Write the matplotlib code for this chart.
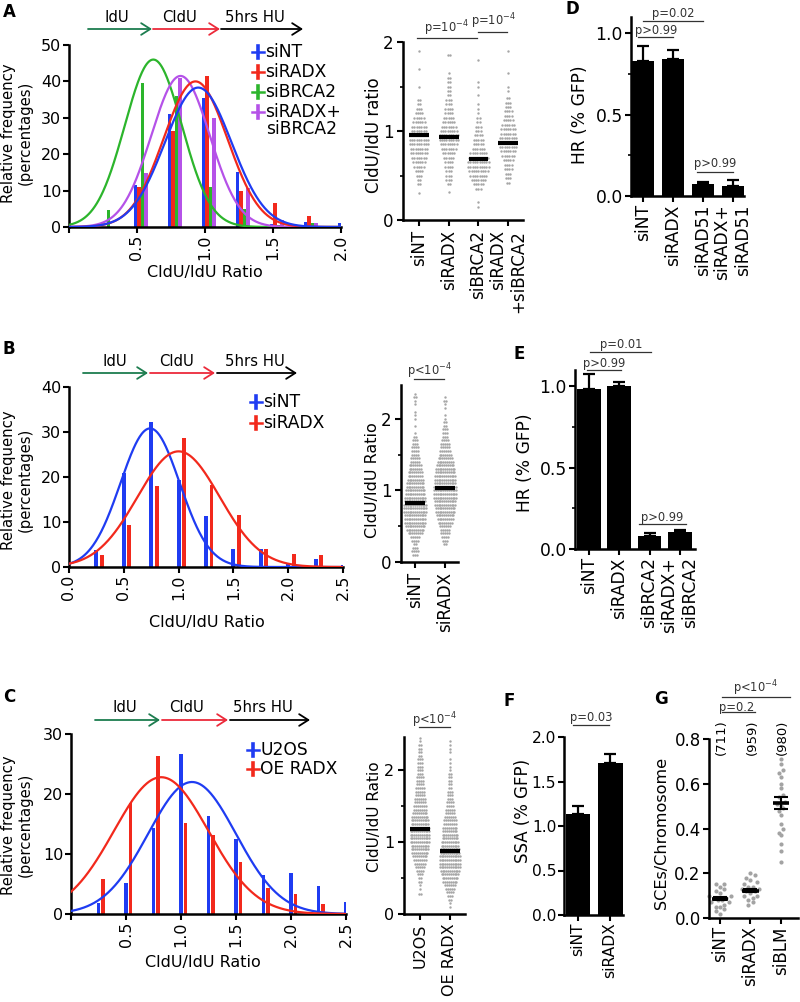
import numpy as np
import matplotlib
matplotlib.use("Agg")
import matplotlib.pyplot as plt
from matplotlib.lines import Line2D
from matplotlib.patches import FancyArrowPatch

plt.rcParams['font.family'] = ['DejaVu Sans']
plt.rcParams['mathtext.default'] = 'regular'

# ---------------- DATA ----------------
# Panel A histogram (relative frequency, %)
A_bins = [0.25, 0.50, 0.75, 1.00, 1.25, 1.50, 1.75, 2.00]
A_siNT = [0.0, 11.5, 31.0, 35.5, 15.0, 0.8, 1.4, 1.2]
A_siRADX = [0.0, 11.0, 26.3, 41.5, 10.0, 6.7, 3.0, 0.0]
A_siBRCA2 = [4.8, 39.5, 36.0, 11.0, 5.0, 0.5, 1.0, 0.0]
A_combo = [0.0, 14.7, 41.0, 30.0, 10.7, 2.0, 1.0, 0.0]
# gaussian fits (amplitude, mean, sd)
A_fit_siNT = (38.3, 0.95, 0.245)
A_fit_siRADX = (40.0, 0.93, 0.235)
A_fit_siBRCA2 = (46.0, 0.62, 0.21)
A_fit_combo = (41.5, 0.82, 0.215)

# Panel B histogram
B_bins = [0.25, 0.50, 0.75, 1.00, 1.25, 1.50, 1.75, 2.00, 2.25, 2.50]
B_siNT = [3.7, 21.0, 32.2, 19.3, 11.3, 4.0, 4.0, 0.9, 1.8, 0.5]
B_siRADX = [2.6, 9.4, 18.0, 28.6, 18.2, 11.5, 3.9, 3.0, 2.6, 0.0]
B_fit_siNT = (30.8, 0.74, 0.27)
B_fit_siRADX = (25.7, 1.00, 0.375)

# Panel C histogram
C_bins = [0.25, 0.50, 0.75, 1.00, 1.25, 1.50, 1.75, 2.00, 2.25, 2.50]
C_U2OS = [1.8, 5.2, 14.3, 26.7, 16.4, 12.5, 6.5, 6.9, 4.7, 2.0]
C_OE = [5.8, 18.5, 26.4, 15.2, 13.1, 8.7, 4.3, 3.3, 1.7, 0.0]
C_fit_U2OS = (22.0, 1.10, 0.40)
C_fit_OE = (22.8, 0.82, 0.43)

# Panel A dot plot: rows (CldU/IdU value) and number of fibres in each row
A_sc_cats = ["siNT", "siRADX", "siBRCA2", "siRADX\n+siBRCA2"]
A_sc_siNT_lv = [0.30, 0.40, 0.45, 0.50, 0.55, 0.60, 0.65, 0.70, 0.75, 0.80, 0.85, 0.90,
                0.95, 1.00, 1.05, 1.10, 1.15, 1.20, 1.25, 1.30, 1.35, 1.50, 1.70, 1.90]
A_sc_siNT_n = [1, 2, 2, 3, 4, 5, 6, 7, 8, 8, 9, 9, 8, 7, 7, 6, 5, 4, 3, 2, 2, 1, 1, 1]
A_sc_siRADX_lv = [0.32, 0.40, 0.45, 0.50, 0.55, 0.60, 0.65, 0.70, 0.75, 0.80, 0.85, 0.90,
                  0.95, 1.00, 1.05, 1.10, 1.15, 1.20, 1.25, 1.30, 1.35, 1.40, 1.45, 1.50,
                  1.55, 1.60, 1.65, 1.85]
A_sc_siRADX_n = [1, 2, 3, 3, 3, 4, 4, 5, 6, 7, 8, 9, 9, 8, 7, 6, 5, 4, 4, 3, 3, 2, 2, 2, 2, 2, 1, 2]
A_sc_siBRCA2_lv = [0.15, 0.20, 0.35, 0.40, 0.45, 0.50, 0.55, 0.60, 0.65, 0.70, 0.75, 0.80,
                   0.85, 0.90, 0.95, 1.00, 1.05, 1.10, 1.15, 1.20, 1.25, 1.30, 1.40, 1.50,
                   1.55, 1.80]
A_sc_siBRCA2_n = [1, 1, 3, 5, 7, 8, 9, 10, 10, 9, 8, 6, 5, 5, 4, 3, 3, 2, 2, 1, 1, 1, 1, 1, 1, 1]
A_sc_combo_lv = [0.42, 0.47, 0.52, 0.57, 0.62, 0.67, 0.72, 0.77, 0.82, 0.87, 0.92, 0.97,
                 1.02, 1.07, 1.12, 1.17, 1.22, 1.27, 1.32, 1.37, 1.45, 1.50, 1.65, 1.90]
A_sc_combo_n = [2, 3, 3, 4, 4, 5, 6, 7, 8, 8, 8, 7, 7, 6, 5, 4, 4, 3, 3, 2, 1, 1, 1, 1]
A_sc_medians = [0.95, 0.93, 0.68, 0.87]

# Panel B dot plot
B_sc_cats = ["siNT", "siRADX"]
B_sc_siNT_lv = [0.10, 0.15, 0.20, 0.25, 0.30, 0.35, 0.40, 0.45, 0.50, 0.55, 0.60, 0.65,
                0.70, 0.75, 0.80, 0.85, 0.90, 0.95, 1.00, 1.05, 1.10, 1.15, 1.20, 1.25,
                1.30, 1.35, 1.40, 1.45, 1.50, 1.55, 1.60, 1.65, 1.70, 1.75, 1.80, 1.90,
                2.00, 2.05, 2.10, 2.20, 2.25, 2.30, 2.35]
B_sc_siNT_n = [3, 4, 3, 2, 4, 5, 8, 10, 11, 12, 12, 12, 13, 13, 13, 12, 12, 11, 11, 10, 10, 9,
               8, 8, 7, 7, 5, 5, 4, 4, 4, 3, 3, 2, 1, 1, 1, 1, 1, 1, 1, 2, 1]
B_sc_siRADX_lv = [0.25, 0.30, 0.35, 0.40, 0.45, 0.50, 0.55, 0.60, 0.65, 0.70, 0.75, 0.80,
                  0.85, 0.90, 0.95, 1.00, 1.05, 1.10, 1.15, 1.20, 1.25, 1.30, 1.35, 1.40,
                  1.45, 1.50, 1.55, 1.60, 1.65, 1.70, 1.75, 1.80, 1.85, 1.90, 1.95, 2.00,
                  2.05, 2.15, 2.20, 2.25, 2.30]
B_sc_siRADX_n = [2, 3, 4, 5, 5, 6, 8, 9, 10, 11, 11, 12, 12, 13, 13, 13, 13, 12, 12, 12, 11, 11,
                 10, 9, 8, 7, 6, 5, 5, 4, 3, 3, 3, 2, 2, 1, 1, 1, 1, 2, 1]
B_sc_medians = [0.82, 1.03]

# Panel C dot plot
C_sc_cats = ["U2OS", "OE RADX"]
C_sc_U2OS_lv = [0.28, 0.35, 0.40, 0.45, 0.50, 0.55, 0.60, 0.65, 0.70, 0.75, 0.80, 0.85,
                0.90, 0.95, 1.00, 1.05, 1.10, 1.15, 1.20, 1.25, 1.30, 1.35, 1.40, 1.45,
                1.50, 1.55, 1.60, 1.65, 1.70, 1.75, 1.80, 1.85, 1.90, 1.95, 2.00, 2.05,
                2.10, 2.15, 2.20, 2.25, 2.30, 2.35, 2.40, 2.45]
C_sc_U2OS_n = [2, 1, 1, 2, 2, 3, 4, 5, 6, 7, 8, 9, 10, 10, 11, 11, 11, 11, 11, 10, 10, 9, 8, 7,
               7, 6, 6, 5, 5, 5, 4, 4, 4, 3, 3, 3, 3, 3, 2, 2, 2, 2, 1, 1]
C_sc_OE_lv = [0.10, 0.15, 0.20, 0.25, 0.30, 0.35, 0.40, 0.45, 0.50, 0.55, 0.60, 0.65,
              0.70, 0.75, 0.80, 0.85, 0.90, 0.95, 1.00, 1.05, 1.10, 1.15, 1.20, 1.25,
              1.30, 1.35, 1.40, 1.45, 1.50, 1.55, 1.60, 1.65, 1.70, 1.75, 1.80, 1.85,
              1.90, 1.95, 2.00, 2.05, 2.10, 2.15, 2.25, 2.30, 2.35, 2.40]
C_sc_OE_n = [1, 1, 2, 3, 4, 5, 6, 8, 9, 10, 11, 12, 12, 12, 12, 11, 11, 10, 10, 9, 9, 8, 8, 7,
             7, 6, 5, 5, 4, 4, 3, 3, 3, 2, 2, 2, 2, 2, 1, 1, 1, 1, 1, 1, 1, 1]
C_sc_medians = [1.18, 0.87]

# Panel D (HR, % GFP)
D_cats = ["siNT", "siRADX", "siRAD51", "siRADX+\nsiRAD51"]
D_vals = [0.83, 0.84, 0.075, 0.063]
D_err = [0.09, 0.06, 0.008, 0.035]

# Panel E (HR, % GFP)
E_cats = ["siNT", "siRADX", "siBRCA2", "siRADX+\nsiBRCA2"]
E_vals = [0.985, 1.00, 0.078, 0.104]
E_err = [0.09, 0.027, 0.02, 0.015]

# Panel F (SSA, % GFP)
F_cats = ["siNT", "siRADX"]
F_vals = [1.13, 1.71]
F_err = [0.10, 0.10]

# Panel G (SCEs / chromosome)
G_cats = ["siNT", "siRADX", "siBLM"]
G_counts = ["(711)", "(959)", "(980)"]
G_siNT = [0.02, 0.03, 0.04, 0.05, 0.05, 0.06, 0.07, 0.07, 0.08, 0.08, 0.09, 0.09, 0.10,
          0.10, 0.11, 0.12, 0.13, 0.14, 0.15, 0.15]
G_siRADX = [0.06, 0.07, 0.08, 0.09, 0.10, 0.10, 0.11, 0.12, 0.12, 0.13, 0.13, 0.14, 0.14,
            0.15, 0.16, 0.17, 0.18, 0.19, 0.20]
G_siBLM = [0.25, 0.30, 0.33, 0.37, 0.38, 0.40, 0.42, 0.46, 0.48, 0.49, 0.50, 0.51, 0.52,
           0.54, 0.55, 0.58, 0.60, 0.63, 0.65, 0.66, 0.69, 0.71]
G_means = [0.087, 0.122, 0.515]
G_sems = [0.008, 0.007, 0.028]

# ---------------- STYLE ----------------
BLUE = '#1f3cf2'
RED = '#f2291c'
GREEN = '#2cb52c'
PURPLE = '#b552e8'
GRAY = '#a6a6a6'
ARROW_GREEN = '#1d7d4f'
ARROW_RED = '#ec2a3a'

W, H = 800, 1002
fig = plt.figure(figsize=(8, 10.02), dpi=100)


def fx(x):
    return x / W


def fy(y):
    return 1 - y / H


def add_ax(l, t, r, b):
    return fig.add_axes([l / W, 1 - b / H, (r - l) / W, (b - t) / H])


def style(ax, tick_fs=11.5, pad=2.0):
    for s in ['top', 'right']:
        ax.spines[s].set_visible(False)
    for s in ['left', 'bottom']:
        ax.spines[s].set_linewidth(1.8)
    ax.tick_params(direction='out', length=4, width=1.5, labelsize=tick_fs, pad=pad)
    ax.tick_params(which='minor', direction='out', length=2.5, width=1.2)
    ax.patch.set_alpha(0)


def gauss(x, p):
    a, m, s = p
    return a * np.exp(-(x - m) ** 2 / (2 * s ** 2))


def hist_panel(box, xlim, ylim, yticks, xticks, xlabels, bins, series, width, fits):
    ax = add_ax(*box)
    b = np.asarray(bins)
    for vals, color, off in series:
        ax.bar(b + off, vals, width=width, color=color, lw=0, zorder=2)
    xx = np.linspace(xlim[0], xlim[1], 400)
    for p, color in fits:
        ax.plot(xx, gauss(xx, p), color=color, lw=1.6, zorder=3)
    ax.set_xlim(*xlim)
    ax.set_ylim(*ylim)
    ax.set_yticks(yticks)
    ax.set_xticks(xticks)
    ax.set_xticklabels(xlabels, rotation=90)
    style(ax, tick_fs=11.5, pad=1.5)
    return ax


def swarm(ax, xc, vals, bw, dx, s, color):
    vals = np.asarray(vals, float)
    rows = np.round(vals / bw).astype(int)
    xs, ys = [], []
    for r in np.unique(rows):
        v = np.sort(vals[rows == r])
        n = len(v)
        offs = (np.arange(n) - (n - 1) / 2) * dx
        order = np.argsort(np.abs(offs), kind='stable')
        xs.extend(xc + offs[order])
        ys.extend(v)
    ax.scatter(xs, ys, s=s, c=color, lw=0, zorder=2, clip_on=False)


def pline(ax, x1, x2, y, ty, text, tx=None, fs=8.3):
    ax.plot([x1, x2], [y, y], color='#333333', lw=0.9, clip_on=False)
    ax.text((x1 + x2) / 2 if tx is None else tx, ty, text, ha='center', va='center',
            fontsize=fs, color='#333333', clip_on=False)


def arrows(y_txt, y_arr, segs, labels):
    cols = [ARROW_GREEN, ARROW_RED, 'black']
    for (x1, x2), c, (lab, lx) in zip(segs, cols, labels):
        fig.add_artist(FancyArrowPatch((fx(x1), fy(y_arr)), (fx(x2), fy(y_arr)),
                                       transform=fig.transFigure, color=c, lw=1.3,
                                       arrowstyle='->,head_length=0.55,head_width=0.35',
                                       mutation_scale=12, shrinkA=0, shrinkB=0))
        fig.text(fx(lx), fy(y_txt), lab, ha='center', va='center', fontsize=10.7)


def legend_entry(x, y, color, text, fs=12.3):
    fig.add_artist(Line2D([fx(x), fx(x + 12)], [fy(y), fy(y)], transform=fig.transFigure,
                          color=color, lw=1.8))
    fig.add_artist(Line2D([fx(x + 6), fx(x + 6)], [fy(y - 6), fy(y + 6)],
                          transform=fig.transFigure, color=color, lw=2.6))
    if text:
        fig.text(fx(x + 13), fy(y), text, ha='left', va='center', fontsize=fs)


def label(x, y, txt):
    fig.text(fx(x), fy(y), txt, ha='center', va='center', fontsize=12, fontweight='bold')


def dot_panel(box, xlim, ylim, cats, groups, medians, dx, cat_fs=10.5, tick_fs=12):
    ax = add_ax(*box)
    for i, (lv, n) in enumerate(groups):
        swarm(ax, i, np.repeat(lv, n), 0.05, dx, 3.0, GRAY)
        ax.plot([i - 0.33, i + 0.33], [medians[i], medians[i]], color='black', lw=3,
                solid_capstyle='butt', zorder=3)
    ax.set_xlim(*xlim)
    ax.set_ylim(*ylim)
    ax.set_yticks([0, 1, 2])
    ax.set_yticks([0.5, 1.5], minor=True)
    ax.set_xticks(range(len(cats)))
    ax.set_xticklabels(cats, rotation=90, fontsize=cat_fs, multialignment='right')
    style(ax, tick_fs=tick_fs, pad=3)
    return ax


def bar_panel(box, xlim, ylim, cats, vals, errs, width, yticks, minor=None, cat_fs=11.5,
              tick_fs=12.3, pad=2):
    ax = add_ax(*box)
    x = np.arange(len(vals))
    ax.bar(x, vals, width=width, color='black', lw=0, zorder=2)
    ax.errorbar(x, vals, yerr=[np.zeros(len(vals)), errs], fmt='none', ecolor='black',
                elinewidth=1.6, capsize=4.5, capthick=1.6, zorder=3)
    ax.set_xlim(*xlim)
    ax.set_ylim(*ylim)
    ax.set_yticks(yticks)
    if minor is not None:
        ax.set_yticks(minor, minor=True)
    ax.set_xticks(x)
    ax.set_xticklabels(cats, rotation=90, fontsize=cat_fs, multialignment='right')
    style(ax, tick_fs=tick_fs, pad=pad)
    return ax


# ---------------- PANEL A ----------------
label(9, 12, 'A')
arrows(18, 29, [(88, 152), (153, 220), (221, 303)],
       [('IdU', 117), ('CldU', 180), ('5hrs HU', 255)])
hist_panel((69, 45, 341, 227), (0, 2.0), (0, 50), [0, 10, 20, 30, 40, 50],
           [0, 0.5, 1.0, 1.5, 2.0], ['', '0.5', '1.0', '1.5', '2.0'], A_bins,
           [(A_siNT, BLUE, -0.01), (A_siRADX, RED, 0.015), (A_siBRCA2, GREEN, 0.04),
            (A_combo, PURPLE, 0.065)], 0.025,
           [(A_fit_siBRCA2, GREEN), (A_fit_combo, PURPLE), (A_fit_siRADX, RED),
            (A_fit_siNT, BLUE)])
fig.text(fx(17), fy(133), 'Relative frequency\n(percentages)', rotation=90, ha='center',
         va='center', fontsize=10.7, multialignment='center', linespacing=1.1)
fig.text(fx(205), fy(272), 'CldU/IdU Ratio', ha='center', va='center', fontsize=11.5)
legend_entry(252, 52, BLUE, 'siNT')
legend_entry(252, 72, RED, 'siRADX')
legend_entry(252, 92, GREEN, 'siBRCA2')
legend_entry(252, 112, PURPLE, 'siRADX+')
fig.text(fx(266), fy(129.5), 'siBRCA2', ha='left', va='center', fontsize=12.3)

axA2 = dot_panel((403, 42, 523, 220), (-0.54, 3.5), (0, 2.0), A_sc_cats,
                 [(A_sc_siNT_lv, A_sc_siNT_n), (A_sc_siRADX_lv, A_sc_siRADX_n),
                  (A_sc_siBRCA2_lv, A_sc_siBRCA2_n), (A_sc_combo_lv, A_sc_combo_n)],
                 A_sc_medians, 0.077)
pline(axA2, -0.07, 1.95, 2.045, 2.16, 'p=10$^{-4}$', tx=0.94)
pline(axA2, 1.98, 2.95, 2.11, 2.23, 'p=10$^{-4}$', tx=2.5)
fig.text(fx(373), fy(135), 'CldU/IdU ratio', rotation=90, ha='center', va='center',
         fontsize=12)

# ---------------- PANEL D ----------------
label(572, 9, 'D')
axD = bar_panel((631, 17, 744, 196), (-0.4, 3.37), (0, 1.1), D_cats, D_vals, D_err, 0.73,
                [0.0, 0.5, 1.0], [0.25, 0.75])
axD.set_yticklabels(['0.0', '0.5', '1.0'])
pline(axD, -0.15, 1.0, 0.975, 1.02, 'p>0.99')
pline(axD, 0.0, 2.0, 1.075, 1.12, 'p=0.02')
pline(axD, 1.8, 3.0, 0.147, 0.20, 'p>0.99')
fig.text(fx(580), fy(115), 'HR (% GFP)', rotation=90, ha='center', va='center', fontsize=12.3)

# ---------------- PANEL B ----------------
label(9, 349, 'B')
arrows(362, 373, [(83, 148), (150, 215), (217, 297)],
       [('IdU', 115), ('CldU', 177), ('5hrs HU', 255)])
hist_panel((69, 387, 343, 567), (0, 2.5), (0, 40), [0, 10, 20, 30, 40],
           [0, 0.5, 1.0, 1.5, 2.0, 2.5], ['0.0', '0.5', '1.0', '1.5', '2.0', '2.5'], B_bins,
           [(B_siNT, BLUE, 0.0), (B_siRADX, RED, 0.05)], 0.036,
           [(B_fit_siNT, BLUE), (B_fit_siRADX, RED)])
fig.text(fx(17), fy(480), 'Relative frequency\n(percentages)', rotation=90, ha='center',
         va='center', fontsize=10.7, multialignment='center', linespacing=1.1)
fig.text(fx(207), fy(622), 'CldU/IdU Ratio', ha='center', va='center', fontsize=11.5)
legend_entry(250, 402, BLUE, 'siNT')
legend_entry(250, 423, RED, 'siRADX')

axB2 = dot_panel((401, 385, 458, 562), (-0.47, 1.43), (0, 2.47), B_sc_cats,
                 [(B_sc_siNT_lv, B_sc_siNT_n), (B_sc_siRADX_lv, B_sc_siRADX_n)],
                 B_sc_medians, 0.062)
pline(axB2, -0.03, 0.97, 2.56, 2.66, 'p<10$^{-4}$')
fig.text(fx(372), fy(480), 'CldU/IdU Ratio', rotation=90, ha='center', va='center',
         fontsize=11.5)

# ---------------- PANEL E ----------------
label(519, 354, 'E')
axE = bar_panel((575, 370, 695, 549), (-0.46, 3.5), (0, 1.1), E_cats, E_vals, E_err, 0.78,
                [0.0, 0.5, 1.0], [0.25, 0.75])
axE.set_yticklabels(['0.0', '0.5', '1.0'])
pline(axE, -0.05, 1.05, 1.098, 1.14, 'p>0.99')
pline(axE, 0.05, 2.05, 1.21, 1.255, 'p=0.01')
pline(axE, 1.65, 3.2, 0.153, 0.195, 'p>0.99')
fig.text(fx(525), fy(463), 'HR (% GFP)', rotation=90, ha='center', va='center', fontsize=12.3)

# ---------------- PANEL C ----------------
label(9, 697, 'C')
arrows(708, 720, [(95, 160), (162, 228), (230, 310)],
       [('IdU', 125), ('CldU', 187), ('5hrs HU', 263)])
hist_panel((71, 734, 346, 914), (0, 2.5), (0, 30), [0, 10, 20, 30],
           [0, 0.5, 1.0, 1.5, 2.0, 2.5], ['', '0.5', '1.0', '1.5', '2.0', '2.5'], C_bins,
           [(C_U2OS, BLUE, 0.0), (C_OE, RED, 0.04)], 0.034,
           [(C_fit_U2OS, BLUE), (C_fit_OE, RED)])
fig.text(fx(17), fy(825), 'Relative frequency\n(percentages)', rotation=90, ha='center',
         va='center', fontsize=10.7, multialignment='center', linespacing=1.1)
fig.text(fx(203), fy(963), 'CldU/IdU Ratio', ha='center', va='center', fontsize=11.5)
legend_entry(247, 750, BLUE, 'U2OS', fs=12.3)
legend_entry(247, 768.5, RED, 'OE RADX', fs=12.3)

axC2 = dot_panel((404, 737, 465, 914), (-0.53, 1.5), (0, 2.46), C_sc_cats,
                 [(C_sc_U2OS_lv, C_sc_U2OS_n), (C_sc_OE_lv, C_sc_OE_n)],
                 C_sc_medians, 0.062, cat_fs=10, tick_fs=11.5)
pline(axC2, -0.03, 1.0, 2.60, 2.69, 'p<10$^{-4}$')
fig.text(fx(375), fy(817), 'CldU/IdU Ratio', rotation=90, ha='center', va='center',
         fontsize=11)

# ---------------- PANEL F ----------------
label(509, 701, 'F')
axF = bar_panel((564, 737, 623, 915), (-0.44, 1.4), (0, 2.0), F_cats, F_vals, F_err, 0.77,
                [0.0, 0.5, 1.0, 1.5, 2.0], cat_fs=12, tick_fs=11.2, pad=1.5)
axF.set_yticklabels(['0.0', '0.5', '1.0', '1.5', '2.0'])
pline(axF, -0.15, 0.97, 2.13, 2.22, 'p=0.03')
fig.text(fx(523), fy(811), 'SSA (% GFP)', rotation=90, ha='center', va='center', fontsize=12)

# ---------------- PANEL G ----------------
label(661, 699, 'G')
axG = add_ax(709, 739, 798, 918)
for i, vals in enumerate([G_siNT, G_siRADX, G_siBLM]):
    swarm(axG, i, vals, 0.03, 0.14, 9, '#a3a3a3')
    axG.plot([i - 0.27, i + 0.27], [G_means[i], G_means[i]], color='black', lw=2.6,
             solid_capstyle='butt', zorder=3)
    axG.errorbar([i], [G_means[i]], yerr=[G_sems[i]], fmt='none', ecolor='black',
                 elinewidth=1.5, capsize=5, capthick=1.5, zorder=3)
    axG.text(i + 0.05, 0.808, G_counts[i], rotation=90, ha='center', va='center',
             fontsize=9.5, clip_on=False)
axG.set_xlim(-0.36, 2.56)
axG.set_ylim(0, 0.8)
axG.set_yticks([0.0, 0.2, 0.4, 0.6, 0.8])
axG.set_yticklabels(['0.0', '0.2', '0.4', '0.6', '0.8'])
axG.set_xticks(range(3))
axG.set_xticklabels(G_cats, rotation=90, fontsize=11.5)
style(axG, tick_fs=12, pad=2)
pline(axG, 0.07, 1.15, 0.92, 0.943, 'p=0.2', tx=0.56)
pline(axG, 0.07, 2.29, 0.987, 1.027, 'p<10$^{-4}$', tx=1.15)
fig.text(fx(662), fy(833), 'SCEs/Chromosome', rotation=90, ha='center', va='center',
         fontsize=11.6)

fig.savefig('out.png', dpi=100)
